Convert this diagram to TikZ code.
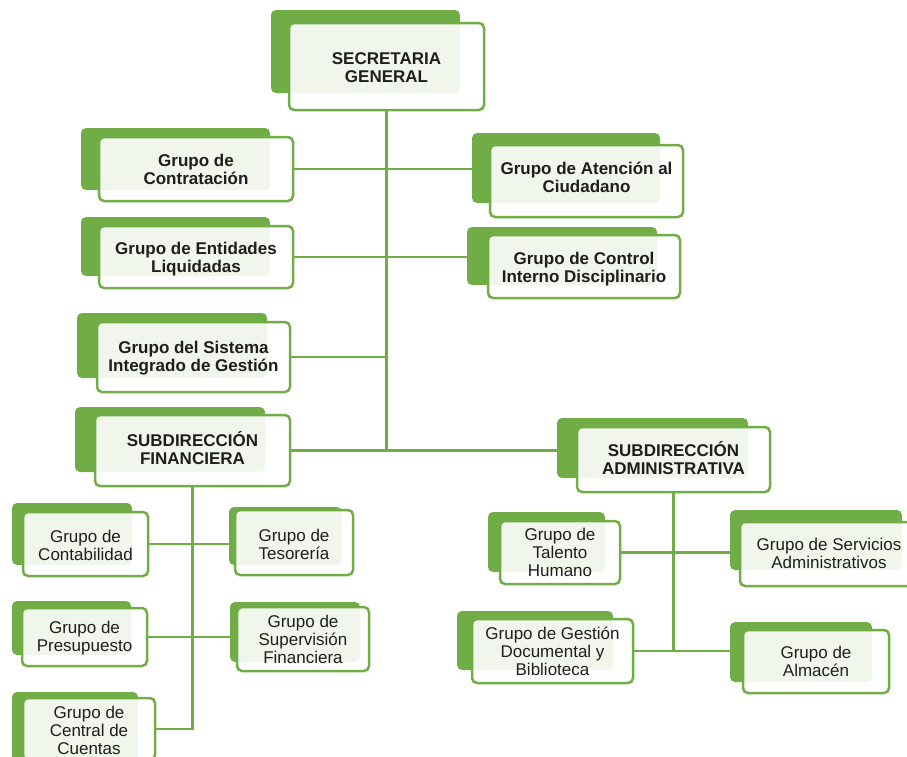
\documentclass[tikz,border=0pt]{standalone}
\usepackage{fontspec}
\setmainfont{Liberation Sans}
\usetikzlibrary{fit,backgrounds}
\definecolor{og}{HTML}{70AD47}
\definecolor{txt}{HTML}{1E1E1E}
\tikzset{
  backbox/.style={fill=og, draw=none, rounded corners=5pt, inner sep=0pt},
  frontbox/.style={draw=og, line width=2.5pt, fill=white, fill opacity=0.9,
    rounded corners=5pt, inner sep=0pt},
  boxtext/.style={align=center, text=txt, inner sep=0pt,
    font=\fontsize{17}{18}\selectfont},
  bold/.style={font=\bfseries\fontsize{17}{18}\selectfont},
  plain/.style={},
  link/.style={draw=og, line width=2.5pt},
}
\newcommand\orgbox[7]{%
  \node[backbox, fit={#2 #3}] (#1-b) {};
  \node[frontbox, fit={#4 #5}] (#1) {};
  \node[boxtext, #6] (#1-t) at (#1.center) {#7};
}
\begin{document}
\begin{tikzpicture}[x=1pt,y=-1pt]
\useasboundingbox (0,0) rectangle (907,756);
\clip (0,0) rectangle (907,756);
\orgbox{sg}{(271,10)}{(460,93)}{(289,23)}{(484,110)}{bold,yshift=-1pt}{SECRETARIA\\GENERAL}
\orgbox{cont}{(81,128)}{(270,190)}{(99,137)}{(293,201)}{bold}{Grupo de\\Contratación}
\orgbox{ent}{(81,217)}{(270,276)}{(99,226)}{(293,288)}{bold,yshift=-2pt}{Grupo de Entidades\\Liquidadas}
\orgbox{aten}{(472,133)}{(660,203)}{(490,145)}{(683,217)}{bold,yshift=4pt}{Grupo de Atención al\\Ciudadano}
\orgbox{ctrl}{(467,227)}{(657,285)}{(488,235)}{(680,298)}{bold,yshift=-3pt}{Grupo de Control\\Interno Disciplinario}
\orgbox{sis}{(77,313)}{(267,378)}{(97,322)}{(290,392)}{bold,yshift=-1pt}{Grupo del Sistema\\Integrado de Gestión}
\orgbox{fin}{(75,407)}{(265,472)}{(95,415)}{(290,486)}{bold,yshift=2pt}{SUBDIRECCIÓN\\FINANCIERA}
\orgbox{adm}{(557,418)}{(748,478)}{(577,427)}{(770,492)}{bold,yshift=1pt}{SUBDIRECCIÓN\\ADMINISTRATIVA}
\orgbox{con}{(12,503)}{(132,565)}{(23,512)}{(148,576)}{plain,yshift=-1pt}{Grupo de\\Contabilidad}
\orgbox{tes}{(229,507)}{(342,565)}{(235,510)}{(353,575)}{plain,yshift=-2pt}{Grupo de\\Tesorería}
\orgbox{pre}{(12,601)}{(131,655)}{(22,608)}{(147,666)}{plain,yshift=-1pt}{Grupo de\\Presupuesto}
\orgbox{sup}{(230,602)}{(360,662)}{(237,607)}{(369,671)}{plain}{Grupo de\\Supervisión\\Financiera}
\orgbox{cen}{(12,692)}{(138,770)}{(23,698)}{(155,760)}{plain,yshift=-1pt}{Grupo de\\Central de\\Cuentas}
\orgbox{tal}{(488,512)}{(605,572)}{(500,521)}{(620,584)}{plain}{Grupo de\\Talento\\Humano}
\orgbox{ser}{(730,510)}{(902,570)}{(740,522)}{(918,586)}{plain,yshift=1pt}{Grupo de Servicios\\Administrativos}
\orgbox{ges}{(457,611)}{(613,670)}{(472,619)}{(633,683)}{plain}{Grupo de Gestión\\Documental y\\Biblioteca}
\orgbox{alm}{(730,622)}{(872,682)}{(743,630)}{(889,693)}{plain}{Grupo de\\Almacén}
\begin{pgfonlayer}{background}
  \draw[link] (sg.south) -- (sg.south |- fin.east);
  \draw[link] (cont.east) -- (cont.east -| aten-b.west);
  \draw[link] (ent.east) -- (ent.east -| ctrl-b.west);
  \draw[link] (sis.east) -- (sis.east -| sg.south);
  \draw[link] (fin.east) -- (fin.east -| adm-b.west);
  \draw[link] (fin.south) -- (fin.south |- cen.east) -- (cen.east);
  \draw[link] (con.east) -- (con.east -| tes-b.west);
  \draw[link] (pre.east) -- (pre.east -| sup-b.west);
  \draw[link] (adm.south) -- (adm.south |- ges.east);
  \draw[link] (tal.east) -- (tal.east -| ser-b.west);
  \draw[link] (ges.east) -- (ges.east -| alm-b.west);
\end{pgfonlayer}
\end{tikzpicture}
\end{document}
